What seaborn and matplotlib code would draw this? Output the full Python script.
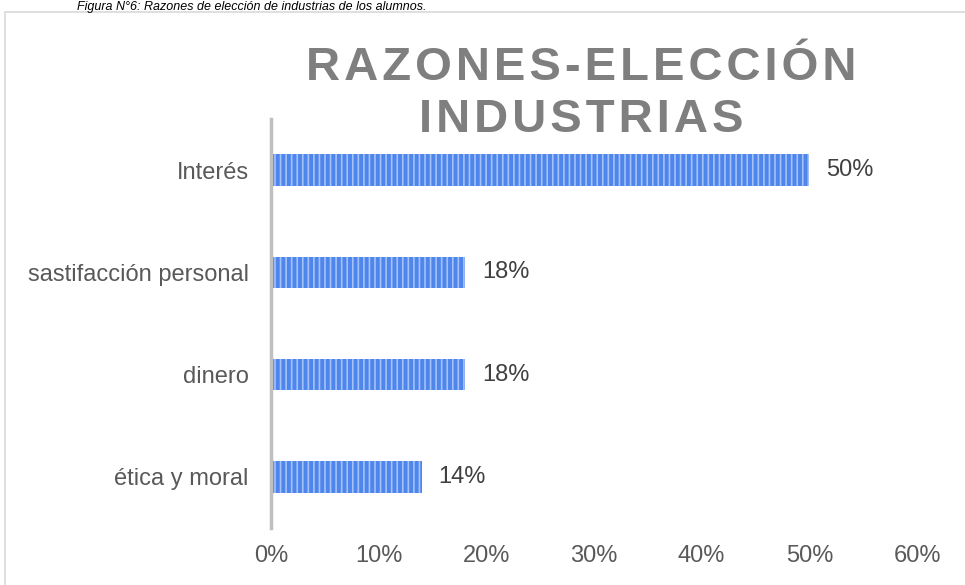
import matplotlib.pyplot as plt
import matplotlib.patches as mpatches
import pandas as pd
import seaborn as sns

categorias = ['Interés', 'sastifacción personal', 'dinero', 'ética y moral']
porcentajes = [0.50, 0.18, 0.18, 0.14]
ticks_x = [0, 0.1, 0.2, 0.3, 0.4, 0.5, 0.6]
etiquetas_x = ['0%', '10%', '20%', '30%', '40%', '50%', '60%']
titulo = ['RAZONES-ELECCIÓN', 'INDUSTRIAS']
pie = 'Figura N°6: Razones de elección de industrias de los alumnos.'

sns.set_style('white')
plt.rcParams['font.family'] = ['Liberation Sans', 'DejaVu Sans']
plt.rcParams['hatch.linewidth'] = 1.2
fs_ticks = 17

df = pd.DataFrame({'razon': categorias, 'valor': porcentajes})

fig = plt.figure(figsize=(9.65, 5.85), dpi=100)
ax = fig.add_axes([0.2808, 0.0974, 0.9503 - 0.2808, 0.7966 - 0.0974])

sns.barplot(data=df, x='valor', y='razon', orient='h', color='#4f86ec',
            width=0.31, saturation=1, ax=ax)
for bar in ax.patches:
    bar.set_hatch('|||')
    bar.set_edgecolor('#a4c2f8')
    bar.set_linewidth(0)

for i, v in enumerate(porcentajes):
    ax.text(v + 0.0158, i, f'{v:.0%}', va='center', ha='left',
            fontsize=fs_ticks, color='#404040')

ax.set_xlim(0, 0.6)
ax.set_ylim(3.5, -0.5)
ax.set_xticks(ticks_x)
ax.set_xticklabels(etiquetas_x)
ax.set_xlabel('')
ax.set_ylabel('')
ax.tick_params(axis='both', length=0, labelsize=fs_ticks, labelcolor='#595959')
ax.tick_params(axis='x', pad=12)
ax.tick_params(axis='y', pad=16)
for s in ['top', 'right', 'bottom']:
    ax.spines[s].set_visible(False)
ax.spines['left'].set_color('#bfbfbf')
ax.spines['left'].set_linewidth(2.5)

# borde del área del gráfico
fig.patches.append(mpatches.Rectangle((5 / 965, -0.1), 1.2, 1 - 12 / 585 + 0.1,
                                      transform=fig.transFigure, fill=False,
                                      edgecolor='#d9d9d9', linewidth=1.2))

for linea, base in zip(titulo, [80, 132]):
    fig.text(0.602, 1 - base / 585, '\u200a'.join(linea), ha='center', va='baseline',
             fontsize=34, fontweight='bold', color='#7f7f7f')

fig.text(0.08, 0.999, pie, ha='left', va='top', fontsize=9,
         style='italic', color='#000000')

fig.savefig('out.png', dpi=100)
